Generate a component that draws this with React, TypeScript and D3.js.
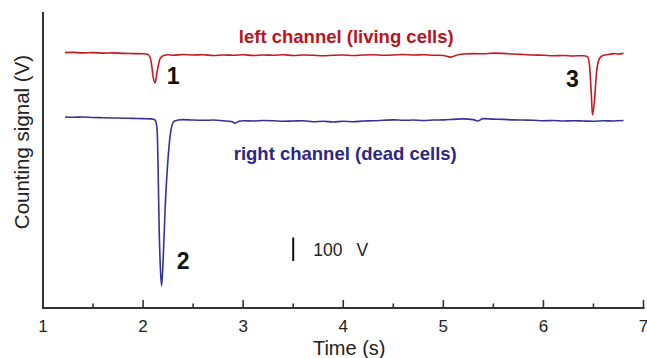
import React from 'react';
import * as d3 from 'd3';

// left channel (living cells), red trace
const leftTime = [1.22, 1.3, 1.4, 1.5, 1.6, 1.7, 1.8, 1.9, 2.0, 2.05, 2.08, 2.1, 2.12, 2.14, 2.17, 2.2, 2.25, 2.3, 2.4, 2.5, 2.6, 2.7, 2.8, 2.9, 3.0, 3.1, 3.2, 3.3, 3.4, 3.5, 3.6, 3.7, 3.8, 3.9, 4.0, 4.1, 4.2, 4.3, 4.4, 4.5, 4.6, 4.7, 4.8, 4.9, 5.0, 5.07, 5.15, 5.2, 5.3, 5.4, 5.5, 5.6, 5.7, 5.8, 5.9, 6.0, 6.1, 6.2, 6.3, 6.4, 6.44, 6.46, 6.48, 6.49, 6.51, 6.53, 6.56, 6.6, 6.65, 6.7, 6.75, 6.8];
const leftSignal = [1087, 1088, 1086, 1087, 1085, 1086, 1084, 1083, 1082, 1079, 1050, 985, 958, 1005, 1062, 1074, 1078, 1076, 1079, 1077, 1078, 1075, 1077, 1076, 1078, 1075, 1077, 1076, 1078, 1075, 1077, 1076, 1074, 1076, 1077, 1075, 1077, 1078, 1076, 1077, 1079, 1077, 1078, 1076, 1075, 1068, 1078, 1081, 1083, 1082, 1085, 1084, 1081, 1079, 1077, 1076, 1074, 1075, 1073, 1074, 1070, 1035, 900, 822, 880, 1000, 1062, 1076, 1079, 1083, 1081, 1084];

// right channel (dead cells), blue trace
const rightTime = [1.22, 1.3, 1.4, 1.5, 1.6, 1.7, 1.8, 1.9, 2.0, 2.08, 2.12, 2.14, 2.15, 2.16, 2.175, 2.185, 2.2, 2.22, 2.25, 2.28, 2.31, 2.35, 2.4, 2.5, 2.6, 2.7, 2.8, 2.88, 2.92, 2.96, 3.0, 3.1, 3.2, 3.3, 3.4, 3.5, 3.6, 3.7, 3.8, 3.9, 4.0, 4.1, 4.2, 4.3, 4.4, 4.5, 4.6, 4.7, 4.8, 4.9, 5.0, 5.1, 5.2, 5.3, 5.34, 5.4, 5.5, 5.6, 5.7, 5.8, 5.9, 6.0, 6.1, 6.2, 6.3, 6.4, 6.5, 6.6, 6.7, 6.8];
const rightSignal = [813, 812, 813, 811, 810, 809, 808, 807, 806, 805, 800, 760, 600, 350, 150, 94, 200, 420, 640, 760, 795, 800, 802, 800, 799, 800, 797, 794, 787, 795, 797, 796, 798, 797, 795, 796, 797, 793, 795, 792, 795, 793, 796, 797, 799, 801, 799, 800, 798, 800, 801, 803, 805, 802, 796, 806, 804, 803, 801, 800, 799, 797, 798, 796, 797, 796, 795, 797, 796, 798];

const majorTicks = [1, 2, 3, 4, 5, 6, 7];
const minorTicks = [1.5, 2.5, 3.5, 4.5, 5.5, 6.5];

// peak labels: time, signal
const peakLabels = ['1', '2', '3'];
const peakTime = [2.3, 2.4, 6.29];
const peakSignal = [955, 165, 940];

// scale bar 100 V
const scaleBarFrom = 200;
const scaleBarTo = 300;

const RED = '#c41a24';
const BLUE = '#35339a';
const AXIS = '#333';
const FONT = 'Liberation Sans, Arial, sans-serif';

const App = () => {
  const width = 647;
  const height = 358;
  const margin = { top: 12, right: 3, bottom: 50, left: 43 };

  const x = d3.scaleLinear().domain([1, 7]).range([margin.left, width - margin.right - 0.5]);
  const y = d3.scaleLinear().domain([0, 1260]).range([height - margin.bottom, margin.top]);

  const line = d3.line<[number, number]>()
    .x((d) => x(d[0]))
    .y((d) => y(d[1]))
    .curve(d3.curveMonotoneX);

  const leftPts = leftTime.map((t, i) => [t, leftSignal[i]] as [number, number]);
  const rightPts = rightTime.map((t, i) => [t, rightSignal[i]] as [number, number]);

  const y0 = y(0);

  return (
    <svg width={width} height={height} style={{ position: 'absolute', left: 0, top: 0, background: '#fff' }} fontFamily={FONT}>
      {/* traces */}
      <path d={line(leftPts) || ''} fill="none" stroke={RED} strokeWidth={1.6} />
      <path d={line(rightPts) || ''} fill="none" stroke={BLUE} strokeWidth={1.6} />

      {/* axes */}
      <line x1={x(1)} x2={x(1)} y1={margin.top} y2={y0} stroke={AXIS} strokeWidth={2} />
      <line x1={x(1) - 1} x2={x(7) + 1} y1={y0} y2={y0} stroke={AXIS} strokeWidth={2} />
      {majorTicks.map((t) => (
        <g key={'M' + t}>
          <line x1={x(t)} x2={x(t)} y1={y0} y2={y0 - 8} stroke={AXIS} strokeWidth={1.6} />
          <text x={x(t)} y={y0 + 24} textAnchor="middle" fontSize={17} fill="#222">{t}</text>
        </g>
      ))}
      {minorTicks.map((t) => (
        <line key={'m' + t} x1={x(t)} x2={x(t)} y1={y0} y2={y0 - 4.5} stroke={AXIS} strokeWidth={1.6} />
      ))}
      <text x={x(4.06)} y={355} textAnchor="middle" fontSize={20} fill="#222">Time (s)</text>
      <text transform={`translate(29,${142}) rotate(-90)`} textAnchor="middle" fontSize={20.5} fill="#222">Counting signal (V)</text>

      {/* channel labels */}
      <text x={x(4.03)} y={43} textAnchor="middle" fontSize={18.5} fontWeight="bold" fill="#b8141e">left channel (living cells)</text>
      <text x={x(4.02)} y={160} textAnchor="middle" fontSize={18.5} fontWeight="bold" fill="#2c2785">right channel (dead cells)</text>

      {/* peak numbers */}
      {peakLabels.map((s, i) => (
        <text key={s} x={x(peakTime[i])} y={y(peakSignal[i])} textAnchor="middle" fontSize={23} fontWeight="bold" fill="#111">{s}</text>
      ))}

      {/* scale bar */}
      <line x1={x(3.5)} x2={x(3.5)} y1={y(scaleBarFrom)} y2={y(scaleBarTo)} stroke="#111" strokeWidth={2} />
      <text x={x(3.7)} y={256} fontSize={17.5} fill="#222">100<tspan dx={14}>V</tspan></text>
    </svg>
  );
};

export default App;
